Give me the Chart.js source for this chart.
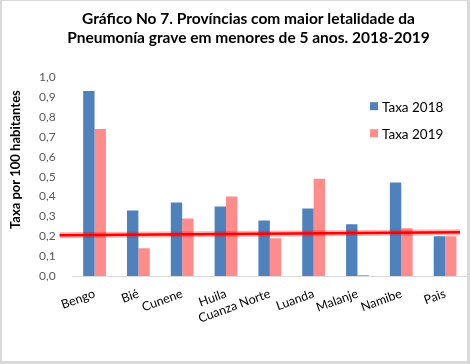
<!DOCTYPE html>
<html>
<head>
<meta charset="utf-8">
<script src="https://cdn.jsdelivr.net/npm/chart.js@4.4.1/dist/chart.umd.min.js"></script>
<style>
  html, body { margin: 0; padding: 0; background: #d9d9d9; }
  #box { position: absolute; left: 2px; top: 1px; width: 465px; height: 360px; background: #fff; }
</style>
</head>
<body>
<div id="box"><canvas id="chart"></canvas></div>
<script>
// dados
const provincias = ["Bengo", "Bié", "Cunene", "Huila", "Cuanza Norte", "Luanda", "Malanje", "Namibe", "Pais"];
const taxa2018 = [0.93, 0.33, 0.37, 0.35, 0.28, 0.34, 0.26, 0.47, 0.20];
const taxa2019 = [0.74, 0.14, 0.29, 0.40, 0.19, 0.49, 0.005, 0.24, 0.20];
const linhaVermelha = [0.205, 0.22]; // traço vermelho à mão (início, fim)
const titulo = ["Gráfico No 7. Províncias com maior letalidade da", "Pneumonía grave em menores de 5 anos. 2018-2019"];
const tituloY = "Taxa por 100 habitantes";

const C = { blue: "#4f81bd", pink: "#ff8b8b", red: "#ff0000", axis: "#d9d9d9", tick: "#595959" };
const FONT = "Lato, 'Open Sans', sans-serif";

// legenda desenhada dentro da área do gráfico, canto superior direito
const legendaDentro = {
  id: "legendaDentro",
  afterDraw(chart) {
    const { ctx, chartArea } = chart;
    ctx.save();
    ctx.font = "13.5px " + FONT;
    ctx.textBaseline = "middle";
    chart.data.datasets.forEach((ds, i) => {
      const x = chartArea.right - 97, y = chartArea.top + 29 + i * 27;
      ctx.fillStyle = ds.backgroundColor;
      ctx.fillRect(x, y - 4, 8, 8);
      ctx.fillStyle = "#000";
      ctx.fillText(ds.label, x + 12, y + 1);
    });
    ctx.restore();
  },
};

// título do eixo Y: no original fica um pouco acima do centro do eixo
const tituloEixoY = {
  id: "tituloEixoY",
  afterDraw(chart) {
    const { ctx, chartArea } = chart;
    ctx.save();
    ctx.translate(14, (chartArea.top + chartArea.bottom) / 2 - 17);
    ctx.rotate(-Math.PI / 2);
    ctx.font = "bold 13px " + FONT;
    ctx.fillStyle = "#000";
    ctx.textAlign = "center";
    ctx.textBaseline = "middle";
    ctx.fillText(tituloY, 0, 0);
    ctx.restore();
  },
};

// linha vermelha por cima das barras
const linha = {
  id: "linha",
  afterDatasetsDraw(chart) {
    const { ctx, chartArea, scales } = chart;
    const x0 = chartArea.left - 13, x1 = chartArea.right - 7;
    const y0 = scales.y.getPixelForValue(linhaVermelha[0]);
    const y1 = scales.y.getPixelForValue(linhaVermelha[1]);
    ctx.save();
    ctx.strokeStyle = "rgba(255,0,0,0.3)";
    ctx.lineWidth = 6;
    ctx.beginPath(); ctx.moveTo(x0, y0); ctx.lineTo(x1, y1); ctx.stroke();
    ctx.strokeStyle = C.red;
    ctx.lineWidth = 2.5;
    ctx.beginPath(); ctx.moveTo(x0, y0); ctx.lineTo(x1, y1); ctx.stroke();
    ctx.restore();
  },
};

new Chart(document.getElementById("chart"), {
  type: "bar",
  data: {
    labels: provincias,
    datasets: [
      { label: "Taxa 2018", data: taxa2018, backgroundColor: C.blue },
      { label: "Taxa 2019", data: taxa2019, backgroundColor: C.pink },
    ],
  },
  options: {
    responsive: true, maintainAspectRatio: false, animation: false,
    categoryPercentage: 0.52, barPercentage: 1,
    layout: { padding: { left: 28, right: 0, top: 0, bottom: 33 } },
    plugins: {
      legend: { display: false },
      tooltip: { enabled: false },
      title: { display: true, text: titulo, color: "#000", font: { family: FONT, size: 15.5, weight: "bold" },
        padding: { top: 9, bottom: 30 } },
    },
    scales: {
      x: {
        grid: { display: false },
        border: { color: C.axis },
        ticks: { color: "#000", font: { family: FONT, size: 12.5 }, minRotation: 20, maxRotation: 20,
          autoSkip: false, padding: 2 },
      },
      y: {
        min: 0, max: 1,
        grid: { display: false },
        border: { display: false },
        ticks: { stepSize: 0.1, color: C.tick, font: { family: FONT, size: 12 }, padding: 9,
          callback: (v) => v.toFixed(1).replace(".", ",") },
      },
    },
  },
  plugins: [legendaDentro, tituloEixoY, linha],
});
</script>
</body>
</html>
